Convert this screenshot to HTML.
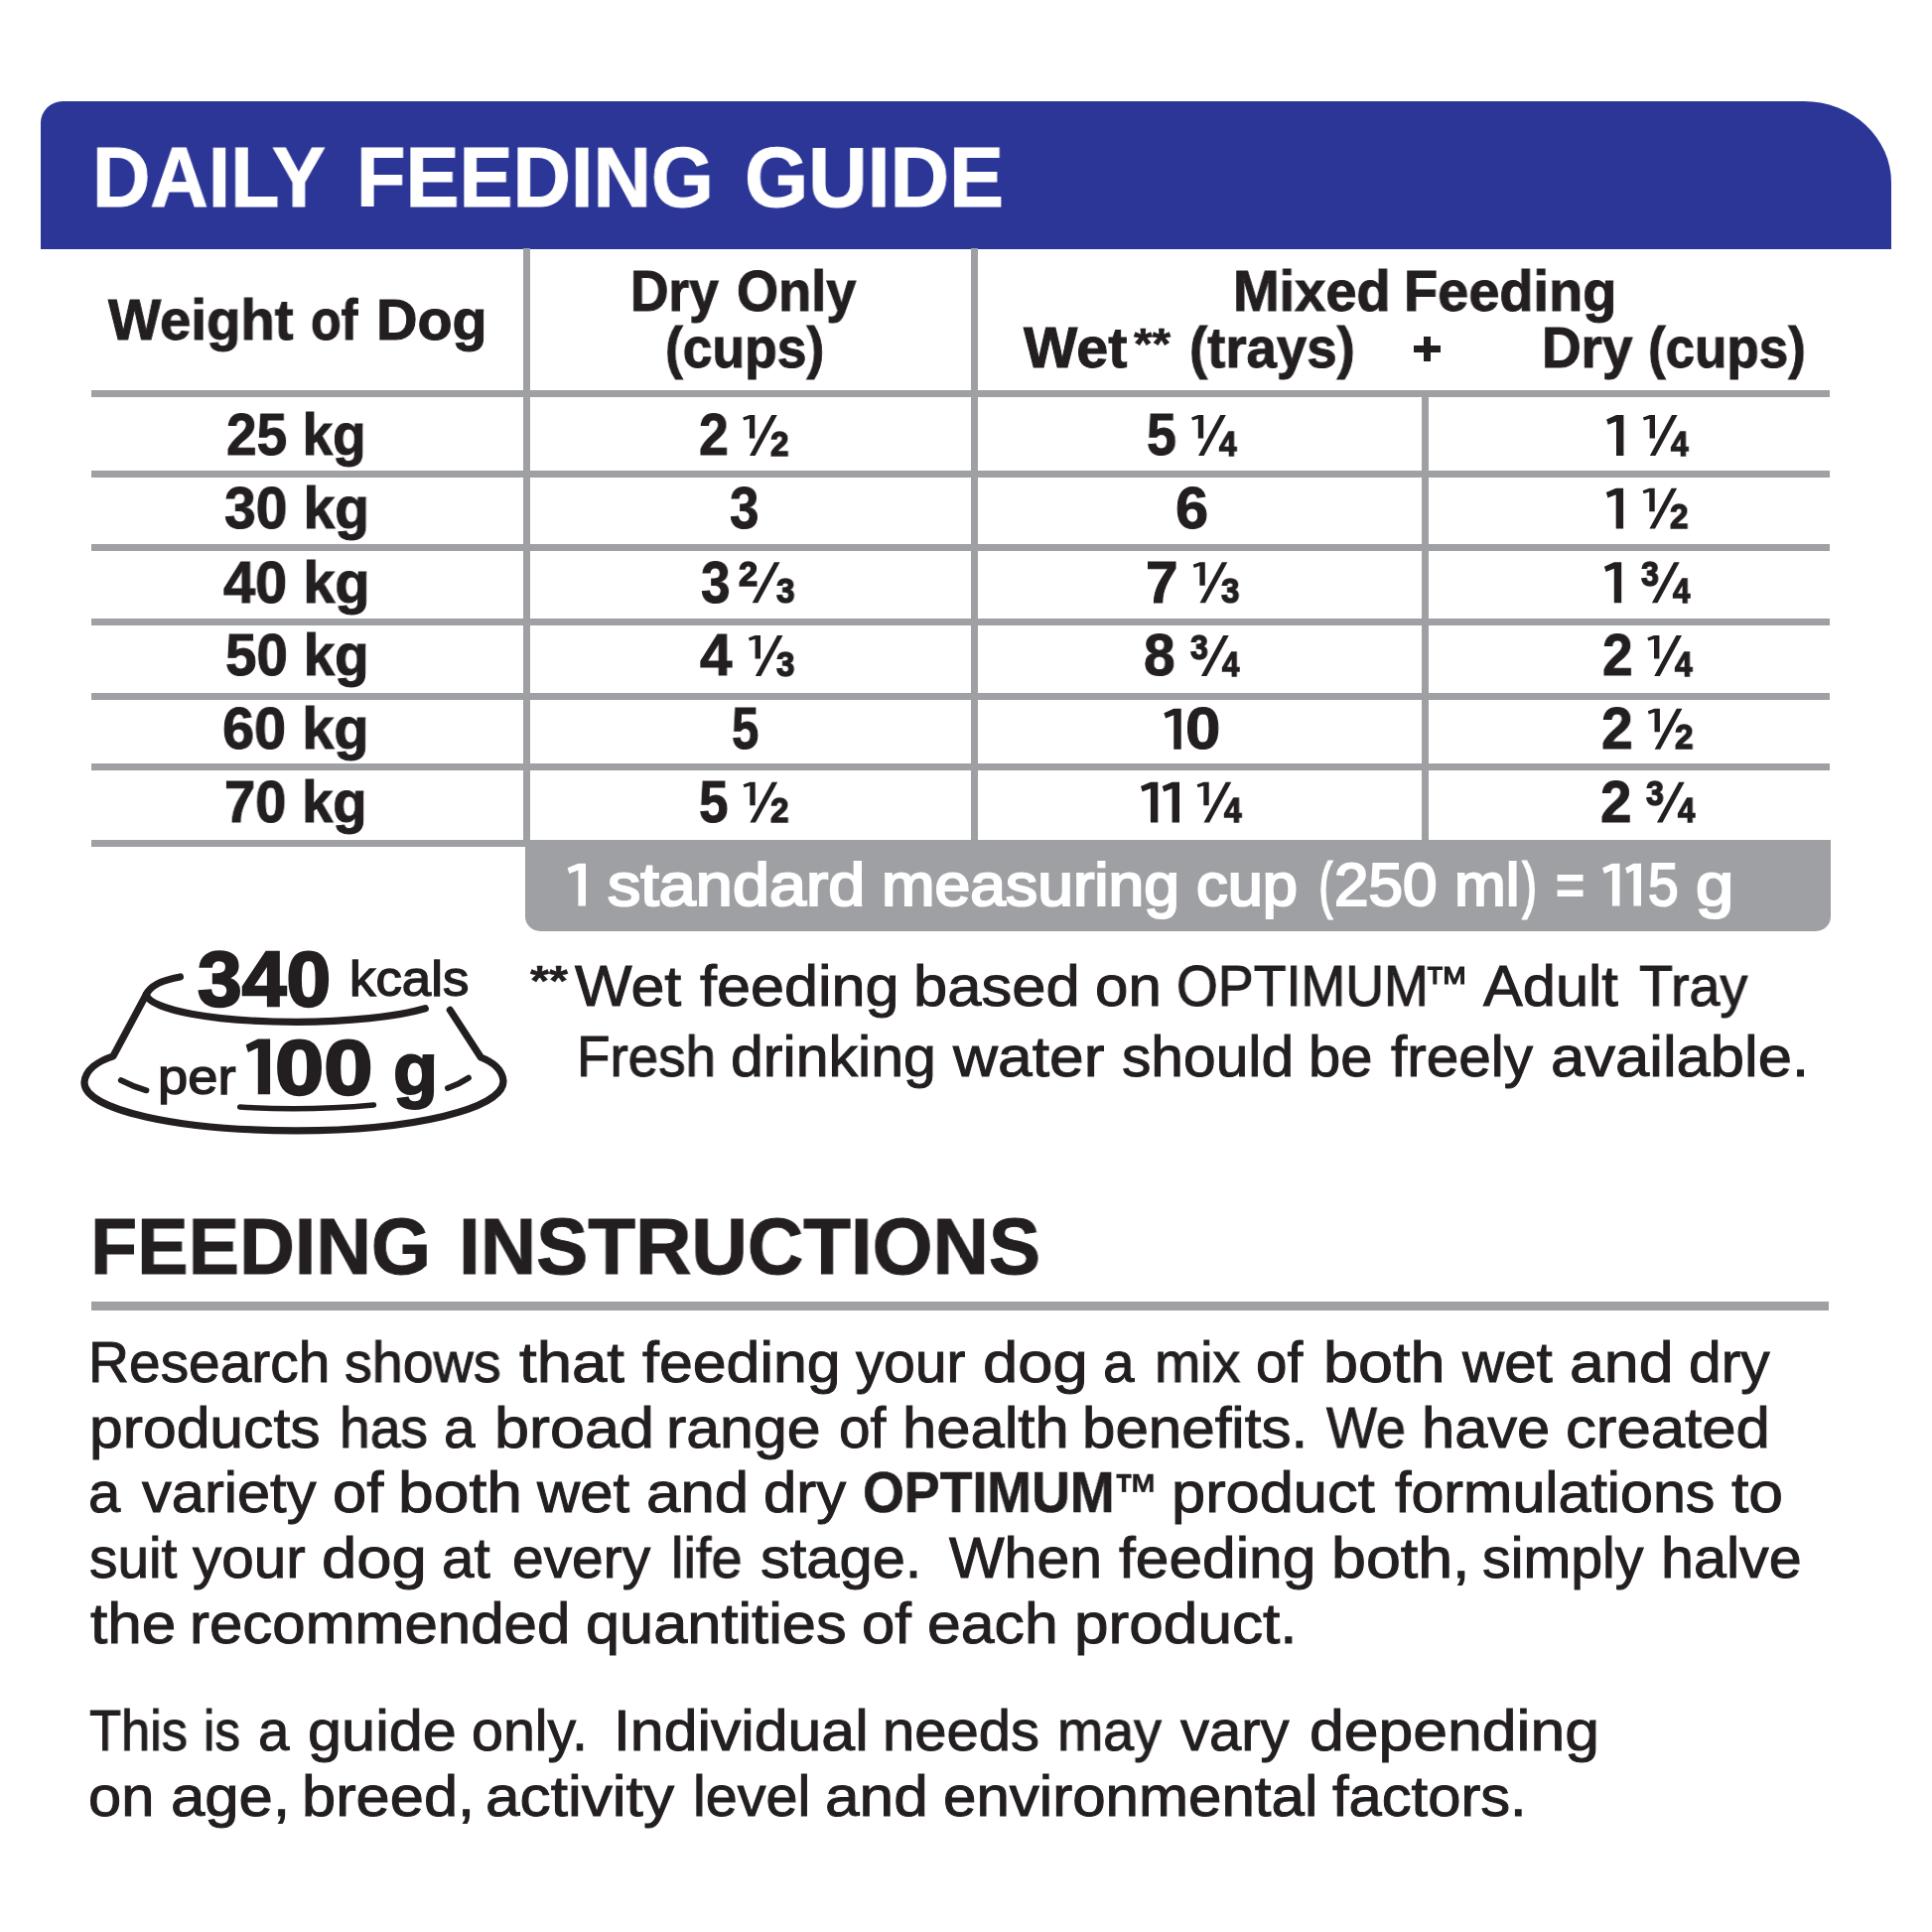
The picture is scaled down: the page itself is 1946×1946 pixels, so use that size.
<!DOCTYPE html>
<html lang="en">
<head>
<meta charset="utf-8">
<title>Daily Feeding Guide</title>
<style>
html,body{margin:0;padding:0;background:#fff;}
body{width:1946px;height:1946px;overflow:hidden;font-family:"Liberation Sans",sans-serif;color:#231F20;}
#c{position:relative;width:1946px;height:1946px;overflow:hidden;background:#fff;}
.t{position:absolute;white-space:pre;line-height:1;font-weight:400;display:block;will-change:transform;}
.t b{font-weight:700;}
.r{position:absolute;background:#9FA0A4;}
#banner{position:absolute;left:40.5px;top:102px;width:1864px;height:149.3px;background:#2C3697;border-top-left-radius:22px;border-top-right-radius:88px 82px;}
#bar{position:absolute;left:529px;top:845.5px;width:1314.8px;height:92px;background:#9FA0A4;border-bottom-left-radius:15px;border-bottom-right-radius:15px;}
svg{position:absolute;left:0;top:0;}
</style>
</head>
<body>
<div id="c">
<div id="banner"></div>
<div class="r" style="left:91.6px;top:393.25px;width:1751.6px;height:7.1px"></div>
<div class="r" style="left:91.6px;top:473.85px;width:1751.6px;height:7.1px"></div>
<div class="r" style="left:91.6px;top:547.95px;width:1751.6px;height:7.1px"></div>
<div class="r" style="left:91.6px;top:622.95px;width:1751.6px;height:7.1px"></div>
<div class="r" style="left:91.6px;top:698.25px;width:1751.6px;height:7.1px"></div>
<div class="r" style="left:91.6px;top:768.75px;width:1751.6px;height:7.1px"></div>
<div class="r" style="left:91.6px;top:845.55px;width:1751.6px;height:7.1px"></div>
<div class="r" style="left:526.75px;top:250px;width:7.1px;height:602.6px"></div>
<div class="r" style="left:977.65px;top:250px;width:7.1px;height:602.6px"></div>
<div class="r" style="left:1431.55px;top:396px;width:7.1px;height:456.6px"></div>
<div class="r" style="left:92px;top:1310.7px;width:1749.6px;height:9.4px"></div>
<div class="r" style="background:#231F20;left:1423.6px;top:348.4px;width:27px;height:7px"></div>
<div class="r" style="background:#231F20;left:1433.6px;top:339.4px;width:7px;height:25px"></div>
<div id="bar"></div>
<svg width="1946" height="1946" viewBox="0 0 1946 1946" fill="none" stroke="#231F20" stroke-width="7.2" stroke-linecap="round" stroke-linejoin="round">
<path d="M181.4 984 C164 987 152 992 147.4 1001.5 L114 1063.8 C98 1069 86 1078 85 1090 C84 1118 180 1138.8 298.6 1138.8 C415 1138.8 507 1117 507 1089 C506 1077 497 1070 484.3 1065 L453.3 1017.4"/>
<path d="M147.4 1001.5 C150 1017 215 1029.3 298.6 1029.3 C350 1029.3 400 1024 428.3 1015.7"/>
<path stroke-width="6" d="M121.9 1088.1 Q134 1094.5 147.4 1098.3"/>
<path stroke-width="6" d="M451 1096 Q462.5 1092 471.9 1085.7"/>
<path stroke-width="5.4" d="M241.6 1115.0 C290 1118.2 335 1116.8 376.5 1113.0"/>
</svg>
<svg width="1946" height="1946" viewBox="0 0 1946 1946" fill="#231F20" stroke="none">
<polygon points="755.0,458.9 760.6,458.9 782.8,418.0 777.2,418.0"/>
<polygon points="757.7,607.2 763.3,607.2 785.5,566.3 779.9,566.3"/>
<polygon points="760.8,680.9 766.4,680.9 788.5,640.0 783.0,640.0"/>
<polygon points="755.4,828.6 761.0,828.6 783.2,787.7 777.6,787.7"/>
<polygon points="1207.0,458.9 1212.6,458.9 1234.8,418.0 1229.2,418.0"/>
<polygon points="1208.5,607.2 1214.1,607.2 1236.3,566.3 1230.8,566.3"/>
<polygon points="1209.9,680.9 1215.5,680.9 1237.7,640.0 1232.1,640.0"/>
<polygon points="1212.5,828.6 1218.1,828.6 1240.3,787.7 1234.7,787.7"/>
<polygon points="1661.8,458.9 1667.4,458.9 1689.6,418.0 1684.0,418.0"/>
<polygon points="1661.4,532.6 1667.0,532.6 1689.2,491.7 1683.6,491.7"/>
<polygon points="1663.9,607.2 1669.5,607.2 1691.7,566.3 1686.1,566.3"/>
<polygon points="1666.2,680.9 1671.8,680.9 1694.0,640.0 1688.4,640.0"/>
<polygon points="1666.6,754.7 1672.2,754.7 1694.4,713.8 1688.8,713.8"/>
<polygon points="1668.9,828.6 1674.5,828.6 1696.7,787.7 1691.1,787.7"/>
<polygon points="760.3,418.0 754.9,418.0 748.2,420.5 749.2,423.6 754.9,421.7 754.9,441.5 760.3,441.5"/>
<polygon points="766.0,640.0 760.6,640.0 753.9,642.5 754.9,645.6 760.6,643.7 760.6,663.5 766.0,663.5"/>
<polygon points="760.7,787.7 755.3,787.7 748.6,790.2 749.6,793.3 755.3,791.4 755.3,811.2 760.7,811.2"/>
<polygon points="1212.2,418.0 1206.8,418.0 1200.1,420.5 1201.1,423.6 1206.8,421.7 1206.8,441.5 1212.2,441.5"/>
<polygon points="1213.8,566.3 1208.4,566.3 1201.7,568.8 1202.7,571.9 1208.4,570.0 1208.4,589.8 1213.8,589.8"/>
<polygon points="1189.7,713.8 1182.3,713.8 1172.4,718.2 1174.1,723.6 1182.3,720.3 1182.3,754.7 1189.7,754.7"/>
<polygon points="1166.3,787.7 1158.9,787.7 1149.0,792.1 1150.7,797.5 1158.9,794.2 1158.9,828.6 1166.3,828.6"/>
<polygon points="1188.0,787.7 1180.6,787.7 1170.7,792.1 1172.4,797.5 1180.6,794.2 1180.6,828.6 1188.0,828.6"/>
<polygon points="1217.7,787.7 1212.3,787.7 1205.6,790.2 1206.6,793.3 1212.3,791.4 1212.3,811.2 1217.7,811.2"/>
<polygon points="1635.4,418.0 1628.0,418.0 1618.1,422.4 1619.8,427.8 1628.0,424.5 1628.0,458.9 1635.4,458.9"/>
<polygon points="1667.0,418.0 1661.6,418.0 1654.9,420.5 1655.9,423.6 1661.6,421.7 1661.6,441.5 1667.0,441.5"/>
<polygon points="1635.1,491.7 1627.7,491.7 1617.8,496.1 1619.5,501.5 1627.7,498.2 1627.7,532.6 1635.1,532.6"/>
<polygon points="1666.7,491.7 1661.3,491.7 1654.6,494.2 1655.6,497.3 1661.3,495.4 1661.3,515.2 1666.7,515.2"/>
<polygon points="1633.2,566.3 1625.8,566.3 1615.9,570.7 1617.6,576.1 1625.8,572.8 1625.8,607.2 1633.2,607.2"/>
<polygon points="1671.4,640.0 1666.0,640.0 1659.3,642.5 1660.3,645.6 1666.0,643.7 1666.0,663.5 1671.4,663.5"/>
<polygon points="1671.9,713.8 1666.5,713.8 1659.8,716.3 1660.8,719.4 1666.5,717.5 1666.5,737.3 1671.9,737.3"/>
<polygon fill="#fff" points="590.0,869.7 582.4,869.7 571.6,874.3 573.4,880.0 582.4,876.5 582.4,912.5 590.0,912.5"/>
<polygon fill="#fff" points="1631.5,869.7 1623.9,869.7 1614.1,874.3 1615.9,880.0 1623.9,876.5 1623.9,912.5 1631.5,912.5"/>
<polygon fill="#fff" points="1653.0,869.7 1645.4,869.7 1637.1,874.3 1638.9,880.0 1645.4,876.5 1645.4,912.5 1653.0,912.5"/>
<polygon points="272.1,1046.5 259.8,1046.5 247.6,1052.5 249.9,1059.9 259.8,1055.4 259.8,1102.3 272.1,1102.3"/>
</svg>
<span class="t" style="left:92.55px;top:135.81px;font-size:85.5px;transform-origin:0 72.39px;transform:scale(0.9449,1.0000);color:#fff;-webkit-text-stroke:1.0px currentColor;"><b>DAILY</b></span>
<span class="t" style="left:359.14px;top:135.81px;font-size:85.5px;transform-origin:0 72.39px;transform:scale(0.9472,1.0000);color:#fff;-webkit-text-stroke:1.0px currentColor;"><b>FEEDING</b></span>
<span class="t" style="left:750.39px;top:135.81px;font-size:85.5px;transform-origin:0 72.39px;transform:scale(0.9641,1.0000);color:#fff;-webkit-text-stroke:1.0px currentColor;"><b>GUIDE</b></span>
<span class="t" style="left:109.00px;top:295.36px;font-size:56.5px;transform-origin:0 47.84px;transform:scale(0.9955,1.0000);-webkit-text-stroke:1.0px currentColor;"><b>Weight</b></span>
<span class="t" style="left:312.87px;top:295.36px;font-size:56.5px;transform-origin:0 47.84px;transform:scale(0.8874,1.0000);-webkit-text-stroke:1.0px currentColor;"><b>of</b></span>
<span class="t" style="left:378.96px;top:295.36px;font-size:56.5px;transform-origin:0 47.84px;transform:scale(1.0171,1.0000);-webkit-text-stroke:1.0px currentColor;"><b>Dog</b></span>
<span class="t" style="left:634.64px;top:265.56px;font-size:56.5px;transform-origin:0 47.84px;transform:scale(0.9430,1.0000);-webkit-text-stroke:1.0px currentColor;"><b>Dry</b></span>
<span class="t" style="left:742.46px;top:265.56px;font-size:56.5px;transform-origin:0 47.84px;transform:scale(0.9572,1.0000);-webkit-text-stroke:1.0px currentColor;"><b>Only</b></span>
<span class="t" style="left:669.98px;top:322.86px;font-size:56.5px;transform-origin:0 47.84px;transform:scale(0.9452,1.0000);-webkit-text-stroke:1.0px currentColor;"><b>(cups)</b></span>
<span class="t" style="left:1241.72px;top:265.56px;font-size:56.5px;transform-origin:0 47.84px;transform:scale(0.9909,1.0000);-webkit-text-stroke:1.0px currentColor;"><b>Mixed</b></span>
<span class="t" style="left:1413.52px;top:265.56px;font-size:56.5px;transform-origin:0 47.84px;transform:scale(0.9901,1.0000);-webkit-text-stroke:1.0px currentColor;"><b>Feeding</b></span>
<span class="t" style="left:1030.91px;top:323.06px;font-size:56.5px;transform-origin:0 47.84px;transform:scale(1.0180,1.0000);-webkit-text-stroke:1.0px currentColor;"><b>Wet</b></span>
<span class="t" style="left:1141.53px;top:324.95px;font-size:44px;transform-origin:0 37.25px;transform:scale(1.0861,1.0000);-webkit-text-stroke:0.6px currentColor;"><b>**</b></span>
<span class="t" style="left:1197.95px;top:323.06px;font-size:56.5px;transform-origin:0 47.84px;transform:scale(0.9652,1.0000);-webkit-text-stroke:1.0px currentColor;"><b>(trays)</b></span>
<span class="t" style="left:1552.87px;top:323.06px;font-size:56.5px;transform-origin:0 47.84px;transform:scale(0.9710,1.0000);-webkit-text-stroke:1.0px currentColor;"><b>Dry</b></span>
<span class="t" style="left:1660.39px;top:323.06px;font-size:56.5px;transform-origin:0 47.84px;transform:scale(0.9367,1.0000);-webkit-text-stroke:1.0px currentColor;"><b>(cups)</b></span>
<span class="t" style="left:227.69px;top:409.28px;font-size:58.6px;transform-origin:0 49.62px;transform:scale(0.9390,1.0000);-webkit-text-stroke:1.0px currentColor;"><b>25 kg</b></span>
<span class="t" style="left:225.71px;top:482.98px;font-size:58.6px;transform-origin:0 49.62px;transform:scale(0.9751,1.0000);-webkit-text-stroke:1.0px currentColor;"><b>30 kg</b></span>
<span class="t" style="left:224.89px;top:557.58px;font-size:58.6px;transform-origin:0 49.62px;transform:scale(0.9854,1.0000);-webkit-text-stroke:1.0px currentColor;"><b>40 kg</b></span>
<span class="t" style="left:226.52px;top:631.28px;font-size:58.6px;transform-origin:0 49.62px;transform:scale(0.9655,1.0000);-webkit-text-stroke:1.0px currentColor;"><b>50 kg</b></span>
<span class="t" style="left:224.12px;top:705.08px;font-size:58.6px;transform-origin:0 49.62px;transform:scale(0.9852,1.0000);-webkit-text-stroke:1.0px currentColor;"><b>60 kg</b></span>
<span class="t" style="left:226.26px;top:778.98px;font-size:58.6px;transform-origin:0 49.62px;transform:scale(0.9584,1.0000);-webkit-text-stroke:1.0px currentColor;"><b>70 kg</b></span>
<span class="t" style="left:703.63px;top:409.28px;font-size:58.6px;transform-origin:0 49.62px;transform:scale(0.9133,1.0000);-webkit-text-stroke:1.0px currentColor;"><b>2</b></span>
<span class="t" style="left:775.81px;top:429.60px;font-size:34.6px;transform-origin:0 29.30px;transform:scale(0.9620,1.0000);-webkit-text-stroke:1.4px currentColor;"><b>2</b></span>
<span class="t" style="left:734.85px;top:482.98px;font-size:58.6px;transform-origin:0 49.62px;transform:scale(0.9032,1.0000);-webkit-text-stroke:1.0px currentColor;"><b>3</b></span>
<span class="t" style="left:705.85px;top:557.58px;font-size:58.6px;transform-origin:0 49.62px;transform:scale(0.9065,1.0000);-webkit-text-stroke:1.0px currentColor;"><b>3</b></span>
<span class="t" style="left:743.81px;top:560.90px;font-size:34.6px;transform-origin:0 29.30px;transform:scale(0.9783,1.0000);-webkit-text-stroke:1.4px currentColor;"><b>2</b></span>
<span class="t" style="left:781.97px;top:577.90px;font-size:34.6px;transform-origin:0 29.30px;transform:scale(0.9639,1.0000);-webkit-text-stroke:1.4px currentColor;"><b>3</b></span>
<span class="t" style="left:704.80px;top:631.28px;font-size:58.6px;transform-origin:0 49.62px;transform:scale(0.9941,1.0000);-webkit-text-stroke:1.0px currentColor;"><b>4</b></span>
<span class="t" style="left:782.07px;top:651.60px;font-size:34.6px;transform-origin:0 29.30px;transform:scale(0.9588,1.0000);-webkit-text-stroke:1.4px currentColor;"><b>3</b></span>
<span class="t" style="left:736.58px;top:705.08px;font-size:58.6px;transform-origin:0 49.62px;transform:scale(0.8387,1.0000);-webkit-text-stroke:1.0px currentColor;"><b>5</b></span>
<span class="t" style="left:704.25px;top:778.98px;font-size:58.6px;transform-origin:0 49.62px;transform:scale(0.9065,1.0000);-webkit-text-stroke:1.0px currentColor;"><b>5</b></span>
<span class="t" style="left:776.21px;top:799.30px;font-size:34.6px;transform-origin:0 29.30px;transform:scale(0.9620,1.0000);-webkit-text-stroke:1.4px currentColor;"><b>2</b></span>
<span class="t" style="left:1155.44px;top:409.28px;font-size:58.6px;transform-origin:0 49.62px;transform:scale(0.9161,1.0000);-webkit-text-stroke:1.0px currentColor;"><b>5</b></span>
<span class="t" style="left:1227.84px;top:429.60px;font-size:34.6px;transform-origin:0 29.30px;transform:scale(0.9112,1.0000);-webkit-text-stroke:1.4px currentColor;"><b>4</b></span>
<span class="t" style="left:1184.17px;top:482.98px;font-size:58.6px;transform-origin:0 49.62px;transform:scale(1.0167,1.0000);-webkit-text-stroke:1.0px currentColor;"><b>6</b></span>
<span class="t" style="left:1154.40px;top:557.58px;font-size:58.6px;transform-origin:0 49.62px;transform:scale(1.0000,1.0000);-webkit-text-stroke:1.0px currentColor;"><b>7</b></span>
<span class="t" style="left:1229.87px;top:577.90px;font-size:34.6px;transform-origin:0 29.30px;transform:scale(0.9588,1.0000);-webkit-text-stroke:1.4px currentColor;"><b>3</b></span>
<span class="t" style="left:1152.31px;top:631.28px;font-size:58.6px;transform-origin:0 49.62px;transform:scale(0.9710,1.0000);-webkit-text-stroke:1.0px currentColor;"><b>8</b></span>
<span class="t" style="left:1199.35px;top:634.60px;font-size:34.6px;transform-origin:0 29.30px;transform:scale(0.9278,1.0000);-webkit-text-stroke:1.4px currentColor;"><b>3</b></span>
<span class="t" style="left:1230.73px;top:651.60px;font-size:34.6px;transform-origin:0 29.30px;transform:scale(0.8972,1.0000);-webkit-text-stroke:1.4px currentColor;"><b>4</b></span>
<span class="t" style="left:1193.67px;top:705.08px;font-size:58.6px;transform-origin:0 49.62px;transform:scale(1.0867,1.0000);-webkit-text-stroke:1.0px currentColor;"><b>0</b></span>
<span class="t" style="left:1233.34px;top:799.30px;font-size:34.6px;transform-origin:0 29.30px;transform:scale(0.9112,1.0000);-webkit-text-stroke:1.4px currentColor;"><b>4</b></span>
<span class="t" style="left:1682.64px;top:429.60px;font-size:34.6px;transform-origin:0 29.30px;transform:scale(0.9112,1.0000);-webkit-text-stroke:1.4px currentColor;"><b>4</b></span>
<span class="t" style="left:1682.21px;top:503.30px;font-size:34.6px;transform-origin:0 29.30px;transform:scale(0.9620,1.0000);-webkit-text-stroke:1.4px currentColor;"><b>2</b></span>
<span class="t" style="left:1653.35px;top:560.90px;font-size:34.6px;transform-origin:0 29.30px;transform:scale(0.9278,1.0000);-webkit-text-stroke:1.4px currentColor;"><b>3</b></span>
<span class="t" style="left:1684.73px;top:577.90px;font-size:34.6px;transform-origin:0 29.30px;transform:scale(0.8972,1.0000);-webkit-text-stroke:1.4px currentColor;"><b>4</b></span>
<span class="t" style="left:1613.89px;top:631.28px;font-size:58.6px;transform-origin:0 49.62px;transform:scale(0.9400,1.0000);-webkit-text-stroke:1.0px currentColor;"><b>2</b></span>
<span class="t" style="left:1687.04px;top:651.60px;font-size:34.6px;transform-origin:0 29.30px;transform:scale(0.9112,1.0000);-webkit-text-stroke:1.4px currentColor;"><b>4</b></span>
<span class="t" style="left:1613.34px;top:705.08px;font-size:58.6px;transform-origin:0 49.62px;transform:scale(0.9733,1.0000);-webkit-text-stroke:1.0px currentColor;"><b>2</b></span>
<span class="t" style="left:1687.41px;top:725.40px;font-size:34.6px;transform-origin:0 29.30px;transform:scale(0.9620,1.0000);-webkit-text-stroke:1.4px currentColor;"><b>2</b></span>
<span class="t" style="left:1611.56px;top:778.98px;font-size:58.6px;transform-origin:0 49.62px;transform:scale(0.9633,1.0000);-webkit-text-stroke:1.0px currentColor;"><b>2</b></span>
<span class="t" style="left:1658.35px;top:782.30px;font-size:34.6px;transform-origin:0 29.30px;transform:scale(0.9278,1.0000);-webkit-text-stroke:1.4px currentColor;"><b>3</b></span>
<span class="t" style="left:1689.73px;top:799.30px;font-size:34.6px;transform-origin:0 29.30px;transform:scale(0.8972,1.0000);-webkit-text-stroke:1.4px currentColor;"><b>4</b></span>
<span class="t" style="left:611.81px;top:861.18px;font-size:60.5px;transform-origin:0 51.22px;transform:scale(1.1009,1.0000);color:#fff;-webkit-text-stroke:2.2px currentColor;">standard</span>
<span class="t" style="left:887.82px;top:861.18px;font-size:60.5px;transform-origin:0 51.22px;transform:scale(1.0624,1.0000);color:#fff;-webkit-text-stroke:2.2px currentColor;">measuring</span>
<span class="t" style="left:1204.56px;top:861.18px;font-size:60.5px;transform-origin:0 51.22px;transform:scale(1.0458,1.0000);color:#fff;-webkit-text-stroke:2.2px currentColor;">cup</span>
<span class="t" style="left:1329.08px;top:861.18px;font-size:60.5px;transform-origin:0 51.22px;transform:scale(0.6150,1.0000);color:#fff;-webkit-text-stroke:3.0px currentColor;">(</span>
<span class="t" style="left:1344.25px;top:861.18px;font-size:60.5px;transform-origin:0 51.22px;transform:scale(1.0244,1.0000);color:#fff;-webkit-text-stroke:2.2px currentColor;">250</span>
<span class="t" style="left:1465.23px;top:861.18px;font-size:60.5px;transform-origin:0 51.22px;transform:scale(1.0257,1.0000);color:#fff;-webkit-text-stroke:2.2px currentColor;">ml</span>
<span class="t" style="left:1533.80px;top:861.18px;font-size:60.5px;transform-origin:0 51.22px;transform:scale(0.6650,1.0000);color:#fff;-webkit-text-stroke:3.0px currentColor;">)</span>
<span class="t" style="left:1567.26px;top:861.18px;font-size:60.5px;transform-origin:0 51.22px;transform:scale(0.8223,1.0000);color:#fff;-webkit-text-stroke:2.2px currentColor;">=</span>
<span class="t" style="left:1660.08px;top:861.18px;font-size:60.5px;transform-origin:0 51.22px;transform:scale(0.9099,1.0000);color:#fff;-webkit-text-stroke:2.2px currentColor;">5</span>
<span class="t" style="left:1707.87px;top:861.18px;font-size:60.5px;transform-origin:0 51.22px;transform:scale(1.1391,1.0000);color:#fff;-webkit-text-stroke:2.2px currentColor;">g</span>
<span class="t" style="left:534.49px;top:966.69px;font-size:41.7px;transform-origin:0 35.31px;transform:scale(1.1743,1.0000);-webkit-text-stroke:0.5px currentColor;"><b>**</b></span>
<span class="t" style="left:578.74px;top:965.96px;font-size:56.5px;transform-origin:0 47.84px;transform:scale(1.0791,1.0000);-webkit-text-stroke:1.0px currentColor;">Wet</span>
<span class="t" style="left:704.84px;top:965.96px;font-size:56.5px;transform-origin:0 47.84px;transform:scale(1.0818,1.0000);-webkit-text-stroke:1.0px currentColor;">feeding</span>
<span class="t" style="left:919.88px;top:965.96px;font-size:56.5px;transform-origin:0 47.84px;transform:scale(1.0888,1.0000);-webkit-text-stroke:1.0px currentColor;">based</span>
<span class="t" style="left:1102.91px;top:965.96px;font-size:56.5px;transform-origin:0 47.84px;transform:scale(1.0629,1.0000);-webkit-text-stroke:1.0px currentColor;">on</span>
<span class="t" style="left:1184.77px;top:965.96px;font-size:56.5px;transform-origin:0 47.84px;transform:scale(0.9511,1.0000);-webkit-text-stroke:1.0px currentColor;">OPTIMUM</span>
<span class="t" style="left:1434.04px;top:967.30px;font-size:45px;transform-origin:0 38.10px;transform:scale(1.0162,1.0000);-webkit-text-stroke:1.0px currentColor;">™</span>
<span class="t" style="left:1493.83px;top:965.96px;font-size:56.5px;transform-origin:0 47.84px;transform:scale(1.0547,1.0000);-webkit-text-stroke:1.0px currentColor;">Adult</span>
<span class="t" style="left:1650.71px;top:965.96px;font-size:56.5px;transform-origin:0 47.84px;transform:scale(0.9843,1.0000);-webkit-text-stroke:1.0px currentColor;">Tray</span>
<span class="t" style="left:580.81px;top:1037.36px;font-size:56.5px;transform-origin:0 47.84px;transform:scale(0.9696,1.0000);-webkit-text-stroke:1.0px currentColor;">Fresh</span>
<span class="t" style="left:735.83px;top:1037.36px;font-size:56.5px;transform-origin:0 47.84px;transform:scale(1.0458,1.0000);-webkit-text-stroke:1.0px currentColor;">drinking</span>
<span class="t" style="left:960.06px;top:1037.36px;font-size:56.5px;transform-origin:0 47.84px;transform:scale(1.1037,1.0000);-webkit-text-stroke:1.0px currentColor;">water</span>
<span class="t" style="left:1129.78px;top:1037.36px;font-size:56.5px;transform-origin:0 47.84px;transform:scale(1.0394,1.0000);-webkit-text-stroke:1.0px currentColor;">should</span>
<span class="t" style="left:1317.94px;top:1037.36px;font-size:56.5px;transform-origin:0 47.84px;transform:scale(1.0253,1.0000);-webkit-text-stroke:1.0px currentColor;">be</span>
<span class="t" style="left:1400.62px;top:1037.36px;font-size:56.5px;transform-origin:0 47.84px;transform:scale(1.0357,1.0000);-webkit-text-stroke:1.0px currentColor;">freely</span>
<span class="t" style="left:1561.57px;top:1037.36px;font-size:56.5px;transform-origin:0 47.84px;transform:scale(1.0892,1.0000);-webkit-text-stroke:1.0px currentColor;">available.</span>
<span class="t" style="left:198.80px;top:946.54px;font-size:78.5px;transform-origin:0 66.46px;transform:scale(1.0238,1.0000);-webkit-text-stroke:2.4px currentColor;"><b>340</b></span>
<span class="t" style="left:352.05px;top:960.89px;font-size:49.5px;transform-origin:0 41.91px;transform:scale(1.0665,1.0000);-webkit-text-stroke:1.4px currentColor;">kcals</span>
<span class="t" style="left:159.18px;top:1060.29px;font-size:49.5px;transform-origin:0 41.91px;transform:scale(1.0970,1.0000);-webkit-text-stroke:1.4px currentColor;">per</span>
<span class="t" style="left:277.17px;top:1035.94px;font-size:78.5px;transform-origin:0 66.46px;transform:scale(1.1290,1.0000);-webkit-text-stroke:2.4px currentColor;"><b>00</b></span>
<span class="t" style="left:396.11px;top:1039.75px;font-size:74px;transform-origin:0 62.65px;transform:scale(0.9950,1.0000);-webkit-text-stroke:2.0px currentColor;"><b>g</b></span>
<span class="t" style="left:90.71px;top:1216.11px;font-size:79px;transform-origin:0 66.89px;transform:scale(0.9764,1.0000);-webkit-text-stroke:1.0px currentColor;"><b>FEEDING</b></span>
<span class="t" style="left:461.55px;top:1216.11px;font-size:79px;transform-origin:0 66.89px;transform:scale(0.9891,1.0000);-webkit-text-stroke:1.0px currentColor;"><b>INSTRUCTIONS</b></span>
<span class="t" style="left:89.38px;top:1344.76px;font-size:56.5px;transform-origin:0 47.84px;transform:scale(1.0060,1.0000);-webkit-text-stroke:1.0px currentColor;">Research</span>
<span class="t" style="left:347.41px;top:1344.76px;font-size:56.5px;transform-origin:0 47.84px;transform:scale(0.9837,1.0000);-webkit-text-stroke:1.0px currentColor;">shows</span>
<span class="t" style="left:522.56px;top:1344.76px;font-size:56.5px;transform-origin:0 47.84px;transform:scale(1.1241,1.0000);-webkit-text-stroke:1.0px currentColor;">that</span>
<span class="t" style="left:646.74px;top:1344.76px;font-size:56.5px;transform-origin:0 47.84px;transform:scale(1.0769,1.0000);-webkit-text-stroke:1.0px currentColor;">feeding</span>
<span class="t" style="left:861.50px;top:1344.76px;font-size:56.5px;transform-origin:0 47.84px;transform:scale(1.0037,1.0000);-webkit-text-stroke:1.0px currentColor;">your</span>
<span class="t" style="left:990.32px;top:1344.76px;font-size:56.5px;transform-origin:0 47.84px;transform:scale(1.1208,1.0000);-webkit-text-stroke:1.0px currentColor;">dog</span>
<span class="t" style="left:1110.60px;top:1344.76px;font-size:56.5px;transform-origin:0 47.84px;transform:scale(1.0032,1.0000);-webkit-text-stroke:1.0px currentColor;">a</span>
<span class="t" style="left:1162.74px;top:1344.76px;font-size:56.5px;transform-origin:0 47.84px;transform:scale(0.9823,1.0000);-webkit-text-stroke:1.0px currentColor;">mix</span>
<span class="t" style="left:1265.11px;top:1344.76px;font-size:56.5px;transform-origin:0 47.84px;transform:scale(0.9931,1.0000);-webkit-text-stroke:1.0px currentColor;">of</span>
<span class="t" style="left:1332.61px;top:1344.76px;font-size:56.5px;transform-origin:0 47.84px;transform:scale(1.1144,1.0000);-webkit-text-stroke:1.0px currentColor;">both</span>
<span class="t" style="left:1472.85px;top:1344.76px;font-size:56.5px;transform-origin:0 47.84px;transform:scale(1.0330,1.0000);-webkit-text-stroke:1.0px currentColor;">wet</span>
<span class="t" style="left:1580.94px;top:1344.76px;font-size:56.5px;transform-origin:0 47.84px;transform:scale(1.1086,1.0000);-webkit-text-stroke:1.0px currentColor;">and</span>
<span class="t" style="left:1701.34px;top:1344.76px;font-size:56.5px;transform-origin:0 47.84px;transform:scale(1.0391,1.0000);-webkit-text-stroke:1.0px currentColor;">dry</span>
<span class="t" style="left:90.22px;top:1410.56px;font-size:56.5px;transform-origin:0 47.84px;transform:scale(1.0733,1.0000);-webkit-text-stroke:1.0px currentColor;">products</span>
<span class="t" style="left:341.56px;top:1410.56px;font-size:56.5px;transform-origin:0 47.84px;transform:scale(0.9779,1.0000);-webkit-text-stroke:1.0px currentColor;">has</span>
<span class="t" style="left:447.30px;top:1410.56px;font-size:56.5px;transform-origin:0 47.84px;transform:scale(1.0032,1.0000);-webkit-text-stroke:1.0px currentColor;">a</span>
<span class="t" style="left:497.51px;top:1410.56px;font-size:56.5px;transform-origin:0 47.84px;transform:scale(1.1144,1.0000);-webkit-text-stroke:1.0px currentColor;">broad</span>
<span class="t" style="left:671.21px;top:1410.56px;font-size:56.5px;transform-origin:0 47.84px;transform:scale(1.0772,1.0000);-webkit-text-stroke:1.0px currentColor;">range</span>
<span class="t" style="left:845.29px;top:1410.56px;font-size:56.5px;transform-origin:0 47.84px;transform:scale(1.0038,1.0000);-webkit-text-stroke:1.0px currentColor;">of</span>
<span class="t" style="left:908.78px;top:1410.56px;font-size:56.5px;transform-origin:0 47.84px;transform:scale(1.0894,1.0000);-webkit-text-stroke:1.0px currentColor;">health</span>
<span class="t" style="left:1090.04px;top:1410.56px;font-size:56.5px;transform-origin:0 47.84px;transform:scale(1.0634,1.0000);-webkit-text-stroke:1.0px currentColor;">benefits.</span>
<span class="t" style="left:1336.48px;top:1410.56px;font-size:56.5px;transform-origin:0 47.84px;transform:scale(0.9550,1.0000);-webkit-text-stroke:1.0px currentColor;">We</span>
<span class="t" style="left:1432.06px;top:1410.56px;font-size:56.5px;transform-origin:0 47.84px;transform:scale(1.0551,1.0000);-webkit-text-stroke:1.0px currentColor;">have</span>
<span class="t" style="left:1577.06px;top:1410.56px;font-size:56.5px;transform-origin:0 47.84px;transform:scale(1.0928,1.0000);-webkit-text-stroke:1.0px currentColor;">created</span>
<span class="t" style="left:89.36px;top:1476.36px;font-size:56.5px;transform-origin:0 47.84px;transform:scale(1.0258,1.0000);-webkit-text-stroke:1.0px currentColor;">a</span>
<span class="t" style="left:142.63px;top:1476.36px;font-size:56.5px;transform-origin:0 47.84px;transform:scale(1.0544,1.0000);-webkit-text-stroke:1.0px currentColor;">variety</span>
<span class="t" style="left:334.57px;top:1476.36px;font-size:56.5px;transform-origin:0 47.84px;transform:scale(1.0878,1.0000);-webkit-text-stroke:1.0px currentColor;">of</span>
<span class="t" style="left:400.66px;top:1476.36px;font-size:56.5px;transform-origin:0 47.84px;transform:scale(1.1364,1.0000);-webkit-text-stroke:1.0px currentColor;">both</span>
<span class="t" style="left:540.69px;top:1476.36px;font-size:56.5px;transform-origin:0 47.84px;transform:scale(1.0585,1.0000);-webkit-text-stroke:1.0px currentColor;">wet</span>
<span class="t" style="left:651.06px;top:1476.36px;font-size:56.5px;transform-origin:0 47.84px;transform:scale(1.0941,1.0000);-webkit-text-stroke:1.0px currentColor;">and</span>
<span class="t" style="left:768.81px;top:1476.36px;font-size:56.5px;transform-origin:0 47.84px;transform:scale(1.0596,1.0000);-webkit-text-stroke:1.0px currentColor;">dry</span>
<span class="t" style="left:869.18px;top:1476.36px;font-size:56.5px;transform-origin:0 47.84px;transform:scale(0.9504,1.0000);-webkit-text-stroke:0.6px currentColor;"><b>OPTIMUM</b></span>
<span class="t" style="left:1121.78px;top:1475.54px;font-size:57px;transform-origin:0 48.26px;transform:scale(0.7911,1.0000);-webkit-text-stroke:0.4px currentColor;"><b>™</b></span>
<span class="t" style="left:1179.78px;top:1476.36px;font-size:56.5px;transform-origin:0 47.84px;transform:scale(1.0864,1.0000);-webkit-text-stroke:1.0px currentColor;">product</span>
<span class="t" style="left:1405.12px;top:1476.36px;font-size:56.5px;transform-origin:0 47.84px;transform:scale(1.0478,1.0000);-webkit-text-stroke:1.0px currentColor;">formulations</span>
<span class="t" style="left:1744.15px;top:1476.36px;font-size:56.5px;transform-origin:0 47.84px;transform:scale(1.1050,1.0000);-webkit-text-stroke:1.0px currentColor;">to</span>
<span class="t" style="left:90.40px;top:1542.16px;font-size:56.5px;transform-origin:0 47.84px;transform:scale(1.0054,1.0000);-webkit-text-stroke:1.0px currentColor;">suit</span>
<span class="t" style="left:194.42px;top:1542.16px;font-size:56.5px;transform-origin:0 47.84px;transform:scale(1.0337,1.0000);-webkit-text-stroke:1.0px currentColor;">your</span>
<span class="t" style="left:324.22px;top:1542.16px;font-size:56.5px;transform-origin:0 47.84px;transform:scale(1.1230,1.0000);-webkit-text-stroke:1.0px currentColor;">dog</span>
<span class="t" style="left:444.65px;top:1542.16px;font-size:56.5px;transform-origin:0 47.84px;transform:scale(1.0318,1.0000);-webkit-text-stroke:1.0px currentColor;">at</span>
<span class="t" style="left:516.19px;top:1542.16px;font-size:56.5px;transform-origin:0 47.84px;transform:scale(1.0072,1.0000);-webkit-text-stroke:1.0px currentColor;">every</span>
<span class="t" style="left:676.12px;top:1542.16px;font-size:56.5px;transform-origin:0 47.84px;transform:scale(0.9926,1.0000);-webkit-text-stroke:1.0px currentColor;">life</span>
<span class="t" style="left:766.07px;top:1542.16px;font-size:56.5px;transform-origin:0 47.84px;transform:scale(1.0549,1.0000);-webkit-text-stroke:1.0px currentColor;">stage.</span>
<span class="t" style="left:956.22px;top:1542.16px;font-size:56.5px;transform-origin:0 47.84px;transform:scale(1.0429,1.0000);-webkit-text-stroke:1.0px currentColor;">When</span>
<span class="t" style="left:1126.73px;top:1542.16px;font-size:56.5px;transform-origin:0 47.84px;transform:scale(1.0697,1.0000);-webkit-text-stroke:1.0px currentColor;">feeding</span>
<span class="t" style="left:1341.32px;top:1542.16px;font-size:56.5px;transform-origin:0 47.84px;transform:scale(1.1104,1.0000);-webkit-text-stroke:1.0px currentColor;">both,</span>
<span class="t" style="left:1493.39px;top:1542.16px;font-size:56.5px;transform-origin:0 47.84px;transform:scale(1.0153,1.0000);-webkit-text-stroke:1.0px currentColor;">simply</span>
<span class="t" style="left:1673.38px;top:1542.16px;font-size:56.5px;transform-origin:0 47.84px;transform:scale(1.0486,1.0000);-webkit-text-stroke:1.0px currentColor;">halve</span>
<span class="t" style="left:90.95px;top:1608.16px;font-size:56.5px;transform-origin:0 47.84px;transform:scale(1.0996,1.0000);-webkit-text-stroke:1.0px currentColor;">the</span>
<span class="t" style="left:191.25px;top:1608.16px;font-size:56.5px;transform-origin:0 47.84px;transform:scale(1.0612,1.0000);-webkit-text-stroke:1.0px currentColor;">recommended</span>
<span class="t" style="left:590.17px;top:1608.16px;font-size:56.5px;transform-origin:0 47.84px;transform:scale(1.0855,1.0000);-webkit-text-stroke:1.0px currentColor;">quantities</span>
<span class="t" style="left:868.41px;top:1608.16px;font-size:56.5px;transform-origin:0 47.84px;transform:scale(1.0598,1.0000);-webkit-text-stroke:1.0px currentColor;">of</span>
<span class="t" style="left:934.49px;top:1608.16px;font-size:56.5px;transform-origin:0 47.84px;transform:scale(1.0746,1.0000);-webkit-text-stroke:1.0px currentColor;">each</span>
<span class="t" style="left:1081.55px;top:1608.16px;font-size:56.5px;transform-origin:0 47.84px;transform:scale(1.1000,1.0000);-webkit-text-stroke:1.0px currentColor;">product.</span>
<span class="t" style="left:90.44px;top:1716.46px;font-size:56.5px;transform-origin:0 47.84px;transform:scale(0.9271,1.0000);-webkit-text-stroke:1.0px currentColor;">This</span>
<span class="t" style="left:205.33px;top:1716.46px;font-size:56.5px;transform-origin:0 47.84px;transform:scale(0.9081,1.0000);-webkit-text-stroke:1.0px currentColor;">is</span>
<span class="t" style="left:259.70px;top:1716.46px;font-size:56.5px;transform-origin:0 47.84px;transform:scale(1.0000,1.0000);-webkit-text-stroke:1.0px currentColor;">a</span>
<span class="t" style="left:309.97px;top:1716.46px;font-size:56.5px;transform-origin:0 47.84px;transform:scale(1.0844,1.0000);-webkit-text-stroke:1.0px currentColor;">guide</span>
<span class="t" style="left:475.48px;top:1716.46px;font-size:56.5px;transform-origin:0 47.84px;transform:scale(1.0150,1.0000);-webkit-text-stroke:1.0px currentColor;">only.</span>
<span class="t" style="left:618.16px;top:1716.46px;font-size:56.5px;transform-origin:0 47.84px;transform:scale(1.0750,1.0000);-webkit-text-stroke:1.0px currentColor;">Individual</span>
<span class="t" style="left:889.03px;top:1716.46px;font-size:56.5px;transform-origin:0 47.84px;transform:scale(1.0266,1.0000);-webkit-text-stroke:1.0px currentColor;">needs</span>
<span class="t" style="left:1064.54px;top:1716.46px;font-size:56.5px;transform-origin:0 47.84px;transform:scale(0.9821,1.0000);-webkit-text-stroke:1.0px currentColor;">may</span>
<span class="t" style="left:1189.21px;top:1716.46px;font-size:56.5px;transform-origin:0 47.84px;transform:scale(1.0259,1.0000);-webkit-text-stroke:1.0px currentColor;">vary</span>
<span class="t" style="left:1318.84px;top:1716.46px;font-size:56.5px;transform-origin:0 47.84px;transform:scale(1.1063,1.0000);-webkit-text-stroke:1.0px currentColor;">depending</span>
<span class="t" style="left:89.32px;top:1781.56px;font-size:56.5px;transform-origin:0 47.84px;transform:scale(1.0544,1.0000);-webkit-text-stroke:1.0px currentColor;">on</span>
<span class="t" style="left:171.56px;top:1781.56px;font-size:56.5px;transform-origin:0 47.84px;transform:scale(1.0914,1.0000);-webkit-text-stroke:1.0px currentColor;">age,</span>
<span class="t" style="left:303.68px;top:1781.56px;font-size:56.5px;transform-origin:0 47.84px;transform:scale(1.0866,1.0000);-webkit-text-stroke:1.0px currentColor;">breed,</span>
<span class="t" style="left:488.65px;top:1781.56px;font-size:56.5px;transform-origin:0 47.84px;transform:scale(1.1002,1.0000);-webkit-text-stroke:1.0px currentColor;">activity</span>
<span class="t" style="left:698.16px;top:1781.56px;font-size:56.5px;transform-origin:0 47.84px;transform:scale(1.0176,1.0000);-webkit-text-stroke:1.0px currentColor;">level</span>
<span class="t" style="left:831.05px;top:1781.56px;font-size:56.5px;transform-origin:0 47.84px;transform:scale(1.1019,1.0000);-webkit-text-stroke:1.0px currentColor;">and</span>
<span class="t" style="left:949.51px;top:1781.56px;font-size:56.5px;transform-origin:0 47.84px;transform:scale(1.0630,1.0000);-webkit-text-stroke:1.0px currentColor;">environmental</span>
<span class="t" style="left:1341.53px;top:1781.56px;font-size:56.5px;transform-origin:0 47.84px;transform:scale(1.0564,1.0000);-webkit-text-stroke:1.0px currentColor;">factors.</span>
</div>
</body>
</html>
